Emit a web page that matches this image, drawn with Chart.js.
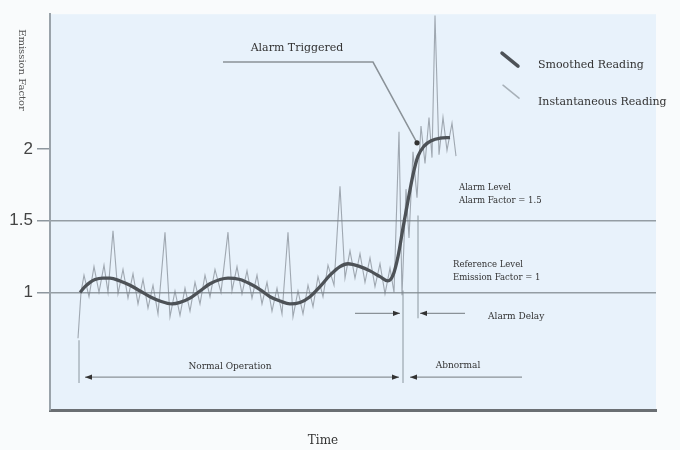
<!DOCTYPE html>
<html><head><meta charset="utf-8">
<script src="https://cdn.jsdelivr.net/npm/chart.js@4.4.1/dist/chart.umd.min.js"></script>
<style>html,body{margin:0;padding:0;background:#f9fbfc;}#wrap{width:680px;height:450px;}</style>
</head><body><div id="wrap"><canvas id="c" width="680" height="450"></canvas></div>
<script>
// ---- data ----
const seriesNames = ['Smoothed Reading', 'Instantaneous Reading'];
const smoothTime  = [30,35,40,45,53,60,70,80,90,100,110,122,130,140,150,160,170,178,190,200,210,220,230,240,250,260,270,280,290,298,310,320,330,338,343,348,353,358,363,368,374,382,390,400];
const smoothValue = [1.00,1.04,1.07,1.09,1.10,1.10,1.08,1.05,1.01,0.97,0.94,0.92,0.93,0.96,1.01,1.06,1.09,1.10,1.09,1.06,1.02,0.97,0.94,0.92,0.93,0.97,1.04,1.12,1.18,1.20,1.18,1.15,1.11,1.08,1.12,1.25,1.45,1.64,1.82,1.95,2.02,2.06,2.075,2.08];
const instTime  = [28,31,34,39,44,49,54,58,63,68,73,78,83,88,93,98,103,108,115,120,125,130,135,140,145,150,155,160,165,171,178,182,187,192,197,202,207,212,217,222,227,232,238,243,248,253,258,263,268,273,278,284,290,295,300,305,310,315,320,325,330,335,340,344,349,352,356,359,363,367,371,375,379,382,385,389,393,397,402,406];
const instValue = [0.68,1.00,1.12,0.97,1.18,1.00,1.19,1.00,1.43,0.99,1.16,0.96,1.13,0.92,1.09,0.89,1.05,0.85,1.42,0.83,1.01,0.84,1.03,0.87,1.07,0.92,1.12,0.97,1.16,1.00,1.42,1.01,1.18,0.99,1.15,0.96,1.12,0.92,1.07,0.87,1.03,0.85,1.42,0.83,1.01,0.85,1.05,0.90,1.11,0.97,1.19,1.05,1.74,1.10,1.29,1.10,1.27,1.07,1.24,1.04,1.20,0.99,1.17,1.00,2.12,0.98,1.72,1.38,1.98,1.66,2.16,1.90,2.22,1.94,2.93,1.96,2.22,1.99,2.18,1.95];
const yTickValues = [1, 1.5, 2];
const yTickLabels = ['1', '1.5', '2'];
const xTitle = 'Time';
const yTitle = 'Emission Factor';

// ---- annotations (time / factor coordinates) ----
const notes = {
  triggered: {text: 'Alarm Triggered', at: [247, 2.704], path: [[173, 2.606], [323, 2.606], [367, 2.043]]},
  alarmLevel: {lines: ['Alarm Level', 'Alarm Factor = 1.5'], at: [409, 1.73]},
  refLevel: {lines: ['Reference Level', 'Emission Factor = 1'], at: [403, 1.195]},
  delay: {text: 'Alarm Delay', at: [438, 0.833], y: 0.854, left: [305, 350], right: [415, 370]},
  normal: {text: 'Normal Operation', at: [180, 0.479], y: 0.409, span: [35, 349]},
  abnormal: {text: 'Abnormal', at: [408, 0.486], y: 0.409, span: [472, 360]},
  vlines: [[353, 1.014, 0.368], [368, 1.536, 0.820], [29, 0.667, 0.368]]
};

const SERIF = '"DejaVu Serif", "Liberation Serif", serif';

function arrowHead(ctx, x, y, dir) {
  ctx.beginPath();
  ctx.moveTo(x, y);
  ctx.lineTo(x - dir * 7, y - 2.6);
  ctx.lineTo(x - dir * 7, y + 2.6);
  ctx.closePath();
  ctx.fill();
}

const bgPlugin = {
  id: 'bg',
  beforeDraw(chart) {
    const {ctx, chartArea: a} = chart;
    ctx.save();
    ctx.fillStyle = '#f9fbfc';
    ctx.fillRect(0, 0, chart.width, chart.height);
    ctx.fillStyle = '#e8f2fb';
    ctx.fillRect(a.left, a.top, a.right - a.left, a.bottom - a.top);
    ctx.restore();
  },
  beforeDatasetsDraw(chart) {
    const {ctx, scales: {x, y}} = chart;
    ctx.save();
    ctx.strokeStyle = 'rgba(130,140,148,0.75)';
    ctx.lineWidth = 1.2;
    notes.vlines.forEach(([t, v1, v2]) => {
      ctx.beginPath();
      ctx.moveTo(x.getPixelForValue(t), y.getPixelForValue(v1));
      ctx.lineTo(x.getPixelForValue(t), y.getPixelForValue(v2));
      ctx.stroke();
    });
    ctx.restore();
  }
};

const annotPlugin = {
  id: 'annot',
  afterDraw(chart) {
    const {ctx, scales: {x, y}, chartArea: a} = chart;
    const X = t => x.getPixelForValue(t), Y = v => y.getPixelForValue(v);
    ctx.save();
    ctx.fillStyle = '#333';
    ctx.textBaseline = 'middle';
    // Alarm triggered
    const tr = notes.triggered;
    ctx.font = '11px ' + SERIF; ctx.textAlign = 'center';
    ctx.fillText(tr.text, X(tr.at[0]), Y(tr.at[1]));
    ctx.strokeStyle = '#8a9298'; ctx.lineWidth = 1.5;
    ctx.beginPath();
    tr.path.forEach((p, i) => i ? ctx.lineTo(X(p[0]), Y(p[1])) : ctx.moveTo(X(p[0]), Y(p[1])));
    ctx.stroke();
    const end = tr.path[tr.path.length - 1];
    ctx.fillStyle = '#333';
    ctx.beginPath(); ctx.arc(X(end[0]), Y(end[1]), 2.6, 0, Math.PI * 2); ctx.fill();

    // levels
    ctx.font = '8.5px ' + SERIF; ctx.textAlign = 'left';
    [notes.alarmLevel, notes.refLevel].forEach(n => {
      n.lines.forEach((s, i) => ctx.fillText(s, X(n.at[0]), Y(n.at[1]) + i * 13));
    });

    // alarm delay
    const d = notes.delay;
    ctx.strokeStyle = '#8a9298'; ctx.lineWidth = 1.2;
    ctx.beginPath(); ctx.moveTo(X(d.left[0]), Y(d.y)); ctx.lineTo(X(d.left[1]), Y(d.y));
    ctx.moveTo(X(d.right[0]), Y(d.y)); ctx.lineTo(X(d.right[1]), Y(d.y)); ctx.stroke();
    ctx.fillStyle = '#333';
    arrowHead(ctx, X(d.left[1]), Y(d.y), 1);
    arrowHead(ctx, X(d.right[1]), Y(d.y), -1);
    ctx.font = '9px ' + SERIF; ctx.textAlign = 'left';
    ctx.fillText(d.text, X(d.at[0]), Y(d.at[1]));

    // normal / abnormal
    const n = notes.normal, ab = notes.abnormal;
    ctx.beginPath(); ctx.moveTo(X(n.span[0]), Y(n.y)); ctx.lineTo(X(n.span[1]), Y(n.y));
    ctx.moveTo(X(ab.span[0]), Y(ab.y)); ctx.lineTo(X(ab.span[1]), Y(ab.y)); ctx.stroke();
    arrowHead(ctx, X(n.span[0]), Y(n.y), -1);
    arrowHead(ctx, X(n.span[1]), Y(n.y), 1);
    arrowHead(ctx, X(ab.span[1]), Y(ab.y), -1);
    ctx.textAlign = 'center';
    ctx.fillText(n.text, X(n.at[0]), Y(n.at[1]));
    ctx.fillText(ab.text, X(ab.at[0]), Y(ab.at[1]));

    // legend
    const lx = a.left + 452, ly = a.top + 39;
    ctx.lineCap = 'round';
    ctx.strokeStyle = '#4d5257'; ctx.lineWidth = 3.5;
    ctx.beginPath(); ctx.moveTo(lx, ly); ctx.lineTo(lx + 16, ly + 13); ctx.stroke();
    ctx.strokeStyle = 'rgba(140,148,155,0.7)'; ctx.lineWidth = 1.5;
    ctx.beginPath(); ctx.moveTo(lx + 1, ly + 32); ctx.lineTo(lx + 17, ly + 45); ctx.stroke();
    ctx.fillStyle = '#333'; ctx.font = '11px ' + SERIF; ctx.textAlign = 'left';
    ctx.fillText(seriesNames[0], lx + 36, ly + 12);
    ctx.fillText(seriesNames[1], lx + 36, ly + 49);

    // axis titles
    ctx.font = '12px ' + SERIF; ctx.textAlign = 'center'; ctx.fillStyle = '#333';
    ctx.fillText(xTitle, 323, a.bottom + 31);
    ctx.save();
    ctx.translate(22, 70); ctx.rotate(Math.PI / 2);
    ctx.font = '10px ' + SERIF; ctx.fillStyle = '#555';
    ctx.fillText(yTitle, 0, 0);
    ctx.restore();
    ctx.restore();
  }
};

new Chart(document.getElementById('c'), {
  type: 'line',
  data: {
    datasets: [
      {label: seriesNames[0], data: smoothTime.map((t, i) => ({x: t, y: smoothValue[i]})),
       borderColor: '#4d5257', borderWidth: 3.3, pointRadius: 0, cubicInterpolationMode: 'monotone', order: 0},
      {label: seriesNames[1], data: instTime.map((t, i) => ({x: t, y: instValue[i]})),
       borderColor: 'rgba(120,128,136,0.65)', borderWidth: 1.1, pointRadius: 0, tension: 0, order: 1}
    ]
  },
  options: {
    responsive: false, animation: false, devicePixelRatio: 1,
    layout: {padding: {left: 0, top: 13, right: 24, bottom: 0}},
    plugins: {legend: {display: false}, tooltip: {enabled: false}},
    scales: {
      x: {type: 'linear', min: 0, max: 606,
          ticks: {display: false}, grid: {display: false, drawTicks: false},
          border: {display: true, color: '#6b6f73', width: 3},
          afterFit(s) { s.height = 40; }},
      y: {min: 0.18, max: 2.94,
          afterBuildTicks(s) { s.ticks = yTickValues.map(v => ({value: v})); },
          ticks: {callback: (v, i) => yTickLabels[i], font: {family: '"Liberation Sans", Arial, sans-serif', size: 17}, color: '#444', padding: 4},
          grid: {color: c => (c.tick && c.tick.value === 2) ? 'rgba(0,0,0,0)' : '#949da4', lineWidth: 1.5, tickColor: '#8e979e', tickLength: 13},
          border: {color: '#9aa3aa', width: 2},
          afterFit(s) { s.width = 50; }}
    }
  },
  plugins: [bgPlugin, annotPlugin]
});
</script></body></html>
